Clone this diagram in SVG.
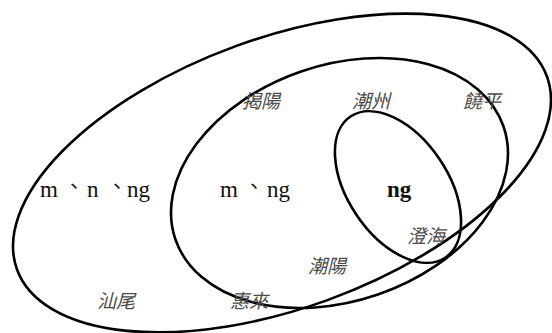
<svg xmlns="http://www.w3.org/2000/svg" width="552" height="333" viewBox="0 0 552 333">
<style>
.ring{fill:none;stroke:#000;stroke-width:2.6}
.lat{font-family:"Liberation Serif","Times New Roman",serif;font-size:23px;fill:#111}
.mark{font-family:"Noto Sans CJK TC",sans-serif;font-size:20px;fill:#111}
.place{font-family:"Noto Sans CJK TC","Noto Sans CJK SC",sans-serif;font-size:19px;font-style:italic;fill:#4a4a4a}
</style>
<rect width="552" height="333" fill="#fff"/>
<g id="outer">
<ellipse class="ring" cx="282" cy="173" rx="282" ry="135" transform="rotate(-20 282 173)"/>
<text class="lat" x="40" y="197">m<tspan class="mark" x="64" y="194">、</tspan><tspan x="87" y="197">n</tspan><tspan class="mark" x="107" y="194">、</tspan><tspan x="127" y="197">ng</tspan></text>
<text class="place" x="97" y="308">汕尾</text>
</g>
<g id="middle">
<ellipse class="ring" cx="339.5" cy="183" rx="173.5" ry="118" transform="rotate(-19 339.5 183)"/>
<text class="lat" x="220" y="197">m<tspan class="mark" x="244" y="194">、</tspan><tspan x="267" y="197">ng</tspan></text>
<text class="place" x="242" y="108">揭陽</text>
<text class="place" x="352" y="108">潮州</text>
<text class="place" x="463" y="108">饒平</text>
<text class="place" x="308" y="273">潮陽</text>
<text class="place" x="230" y="308">惠來</text>
</g>
<g id="inner">
<ellipse class="ring" cx="398" cy="187" rx="85" ry="50" transform="rotate(56 398 187)"/>
<text class="lat" x="387" y="197" font-weight="bold">ng</text>
<text class="place" x="407" y="243">澄海</text>
</g>
</svg>
